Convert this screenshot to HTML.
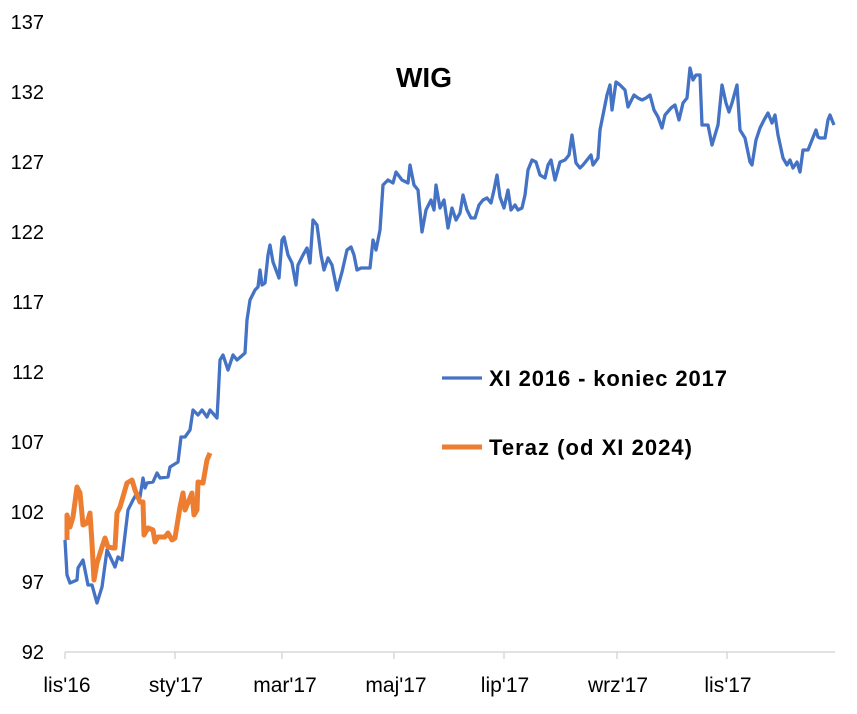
<!DOCTYPE html><html><head><meta charset="utf-8"><style>body{margin:0;background:#fff}svg text{font-family:"Liberation Sans",sans-serif}</style></head><body>
<svg width="857" height="709" xmlns="http://www.w3.org/2000/svg">
<g font-size="20" fill="#000" text-anchor="end">
<text x="44" y="29">137</text><text x="44" y="99">132</text><text x="44" y="169">127</text><text x="44" y="239">122</text><text x="44" y="309">117</text><text x="44" y="379">112</text><text x="44" y="449">107</text><text x="44" y="519">102</text><text x="44" y="589">97</text><text x="44" y="659">92</text></g>
<line x1="65" y1="652" x2="835" y2="652" stroke="#d9d9d9" stroke-width="1.5"/>
<g stroke="#d9d9d9" stroke-width="1.5"><line x1="65" y1="652" x2="65" y2="659"/><line x1="175" y1="652" x2="175" y2="659"/><line x1="282" y1="652" x2="282" y2="659"/><line x1="394" y1="652" x2="394" y2="659"/><line x1="504" y1="652" x2="504" y2="659"/><line x1="617" y1="652" x2="617" y2="659"/><line x1="727" y1="652" x2="727" y2="659"/></g>
<g font-size="21" text-anchor="middle"><text x="67" y="692">lis'16</text><text x="176" y="692">sty'17</text><text x="285" y="692">mar'17</text><text x="396" y="692">maj'17</text><text x="505" y="692">lip'17</text><text x="618" y="692">wrz'17</text><text x="728" y="692">lis'17</text></g>
<text x="424" y="87" font-size="28" font-weight="bold" text-anchor="middle">WIG</text>
<polyline fill="none" stroke="#4472c4" stroke-width="3.3" stroke-linejoin="round" points="65,540 67,575 70,583 77,580 78,568 83,560 88,585 92,585 97,603 102,587 107,550 115,567 118,557 122,560 128,510 133,500 137,493 140,497 143,478 145,488 147,483 153,482 157,473 160,478 168,477 170,467 178,462 181,437 185,437 190,430 193,410 198,415 202,410 207,417 210,410 217,418 218,400 220,360 223,355 228,370 233,355 237,360 245,353 247,320 250,300 255,290 258,287 260,270 262,285 265,283 268,255 270,245 273,262 279,278 282,240 284,237 288,255 292,263 296,285 298,265 303,255 307,248 310,263 313,220 317,225 321,255 324,270 328,258 332,265 337,290 342,272 347,250 351,247 354,255 357,270 361,268 366,268 370,268 373,240 376,250 380,230 383,185 388,180 393,183 396,172 402,180 408,183 410,165 414,185 418,190 422,232 426,210 431,200 434,210 436,185 440,208 444,200 448,228 452,208 456,220 460,213 463,195 467,210 471,218 475,218 479,205 483,200 487,198 491,203 494,190 497,175 500,197 504,208 508,190 511,210 515,205 518,210 522,208 525,195 528,170 532,160 536,162 540,175 545,178 548,165 551,160 555,180 560,162 565,160 569,155 572,135 576,163 580,168 583,165 587,160 591,155 593,165 598,158 600,130 603,115 607,95 610,85 612,110 616,82 620,85 625,90 628,107 634,95 638,98 642,100 646,98 650,95 654,110 658,117 662,128 665,115 671,108 675,105 679,120 683,103 687,98 690,68 693,80 696,75 700,75 702,125 708,125 712,145 715,135 718,125 722,85 726,103 729,112 732,103 737,85 740,130 745,138 750,162 752,165 756,140 760,128 764,120 768,113 772,123 775,115 778,135 783,158 787,165 790,160 793,168 797,162 800,172 803,150 808,150 812,140 816,130 818,137 820,138 825,138 828,120 830,115 834,125"/>
<polyline fill="none" stroke="#ed7d31" stroke-width="5" stroke-linejoin="round" points="67,540 67,515 70,527 73,517 77,487 80,493 83,525 87,523 90,513 92,543 94,580 97,563 102,547 105,538 108,547 113,548 115,548 117,513 120,507 127,483 132,480 135,490 140,502 143,502 144,535 148,528 153,530 155,542 158,537 165,537 168,533 172,540 175,538 180,507 183,493 185,510 192,493 194,515 197,510 198,482 203,483 207,460 210,453"/>
<line x1="442" y1="378" x2="482" y2="378" stroke="#4472c4" stroke-width="3.3"/>
<text x="489" y="386" font-size="22" font-weight="bold" textLength="238">XI 2016 - koniec 2017</text>
<line x1="442" y1="447" x2="482" y2="447" stroke="#ed7d31" stroke-width="5"/>
<text x="489" y="455" font-size="22" font-weight="bold" textLength="203">Teraz (od XI 2024)</text>
</svg></body></html>
